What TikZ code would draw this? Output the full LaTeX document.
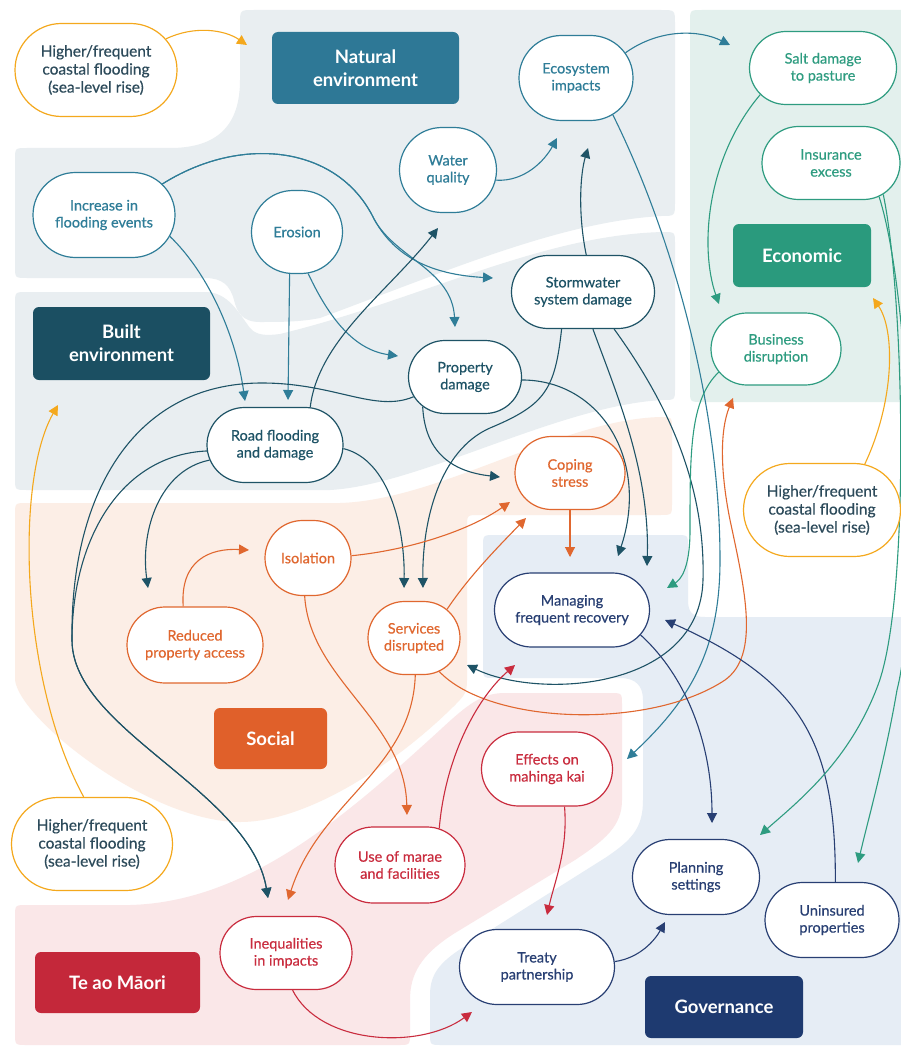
\documentclass[tikz,border=0pt]{standalone}
\usepackage{fontspec}
\setmainfont{Lato}
\newfontfamily\ndfont{Lato}[FakeBold=0.5]
\usetikzlibrary{shapes.misc,arrows.meta,calc}
\definecolor{natC}{HTML}{2F7D98}
\definecolor{builtC}{HTML}{1E5366}
\definecolor{socC}{HTML}{E0672F}
\definecolor{maoriC}{HTML}{C92C3E}
\definecolor{govC}{HTML}{283F73}
\definecolor{ecoC}{HTML}{2E9C80}
\definecolor{floodC}{HTML}{F4A81D}
\definecolor{floodT}{HTML}{2D4B5B}
\definecolor{natBox}{HTML}{2E7896}
\definecolor{builtBox}{HTML}{1B4F62}
\definecolor{ecoBox}{HTML}{2A9A7D}
\definecolor{socBox}{HTML}{E0602A}
\definecolor{maoriBox}{HTML}{C4283A}
\definecolor{govBox}{HTML}{1E3A70}
\definecolor{natBg}{HTML}{E9EEF1}
\definecolor{ecoBg}{HTML}{E3F0ED}
\definecolor{socBg}{HTML}{FCEEE6}
\definecolor{maoriBg}{HTML}{FAE7E8}
\definecolor{govBg}{HTML}{E6EDF5}
\pgfdeclarelayer{bg}
\pgfdeclarelayer{mid}
\pgfsetlayers{bg,mid,main}
\tikzset{
  nd/.style={rounded rectangle, draw=#1, text=#1, fill=white, line width=1.2pt,
    align=center, inner sep=0pt, font=\ndfont\fontsize{14.5}{17}\selectfont},
  fl/.style={nd=floodC, text=floodT, font=\ndfont\fontsize{15.5}{18}\selectfont},
  cat/.style={fill=#1, text=white, rounded corners=6pt, align=center, inner sep=0pt,
    font=\bfseries\fontsize{18.5}{23}\selectfont},
  con/.style={draw=#1, line width=1.1pt, -{Triangle[length=10pt,width=10pt]}},
  sz/.style 2 args={minimum width=#1pt, minimum height=#2pt}
}
\begin{document}
\begin{tikzpicture}[x=1pt,y=-1pt]
\useasboundingbox (0,0) rectangle (901,1051);
\begin{pgfonlayer}{bg}
\fill[white] (0,0) rectangle (901,1051);
% natural
\fill[natBg] (27,148) -- (170,148) .. controls (218,148) and (240,125) .. (240,80) -- (240,24)
  .. controls (240,10) .. (254,10) -- (661,10) .. controls (675,10) .. (675,24) -- (675,202)
  .. controls (675,216) .. (661,216) .. controls (560,222) and (450,270) .. (320,318)
  .. controls (300,322) and (280,322) .. (260,322) .. controls (242,322) and (237,312) .. (234,300)
  .. controls (230,285) and (222,278) .. (205,278) -- (27,278) .. controls (15,278) .. (15,266)
  -- (15,160) .. controls (15,148) .. (27,148) -- cycle;
% built
\fill[natBg] (27,292) -- (205,292) .. controls (228,292) and (238,312) .. (250,328)
  .. controls (256,335) and (265,336) .. (280,334) .. controls (420,300) and (540,235) .. (663,232)
  .. controls (675,232) .. (675,244) -- (675,388) .. controls (675,400) .. (663,400)
  .. controls (560,405) and (420,485) .. (330,490) -- (27,490) .. controls (15,490) .. (15,478)
  -- (15,304) .. controls (15,292) .. (27,292) -- cycle;
% economic
\fill[ecoBg] (702,10) -- (901,10) -- (901,402) -- (702,402) .. controls (690,402) .. (690,390)
  -- (690,22) .. controls (690,10) .. (702,10) -- cycle;
% social
\fill[socBg] (27,503) -- (340,503) .. controls (440,500) and (560,420) .. (660,417)
  .. controls (672,417) .. (672,429) -- (672,503) .. controls (672,515) .. (660,515) -- (479,515)
  .. controls (467,515) .. (467,527) -- (467,680) .. controls (467,692) and (465,695) .. (455,705)
  .. controls (400,760) and (310,822) .. (240,822) .. controls (150,822) and (20,720) .. (15,680)
  -- (15,515) .. controls (15,503) .. (27,503) -- cycle;
% te ao maori
\fill[maoriBg] (27,905) -- (130,905) .. controls (250,902) and (350,812) .. (440,730)
  .. controls (468,704) and (482,693) .. (505,693) -- (610,693) .. controls (622,693) .. (622,705)
  -- (622,800) .. controls (622,826) and (605,840) .. (575,860) -- (455,933)
  .. controls (420,955) and (410,975) .. (410,1000) -- (410,1033) .. controls (410,1045) .. (398,1045)
  -- (27,1045) .. controls (15,1045) .. (15,1033) -- (15,917) .. controls (15,905) .. (27,905) -- cycle;
% governance
\fill[govBg] (495,535) -- (676,535) .. controls (688,535) .. (688,547) -- (688,600)
  .. controls (688,612) and (692,617) .. (705,617) -- (901,617) -- (901,1045) -- (442,1045)
  .. controls (430,1045) .. (430,1033) -- (430,995) .. controls (430,972) and (442,960) .. (470,943)
  -- (605,858) .. controls (632,840) and (643,828) .. (643,800) -- (643,700)
  .. controls (643,686) and (636,678) .. (620,678) -- (495,678) .. controls (483,678) .. (483,666)
  -- (483,547) .. controls (483,535) .. (495,535) -- cycle;
\end{pgfonlayer}

% category labels
\node[cat=natBox, sz={187}{72}] (natL) at (365.5,68) {Natural\\environment};
\node[cat=builtBox, sz={177}{73}] (builtL) at (121.5,343.5) {Built\\environment};
\node[cat=ecoBox, sz={138}{63}] (ecoL) at (802,255.5) {Economic};
\node[cat=socBox, sz={113}{61}] (socL) at (270.5,738.5) {Social};
\node[cat=maoriBox, sz={165}{61}] (maoriL) at (117.5,982.5) {Te ao Māori};
\node[cat=govBox, sz={158}{62}] (govL) at (724,1007) {Governance};

% flood nodes
\node[fl, sz={162}{93}] (f1) at (96,70) {Higher/frequent\\coastal flooding\\(sea-level rise)};
\node[fl, sz={157}{93}] (f2) at (822,510) {Higher/frequent\\coastal flooding\\(sea-level rise)};
\node[fl, sz={161}{93}] (f3) at (92,844) {Higher/frequent\\coastal flooding\\(sea-level rise)};

% natural
\node[nd=natC, sz={114}{85}] (eco) at (576,78) {Ecosystem\\impacts};
\node[nd=natC, sz={97}{85}] (wq) at (448,170) {Water\\quality};
\node[nd=natC, sz={142}{85}] (inc) at (104,215) {Increase in\\flooding events};
\node[nd=natC, sz={91}{83}] (ero) at (297,232) {Erosion};
% built
\node[nd=builtC, sz={143}{73}] (sw) at (583,292) {Stormwater\\system damage};
\node[nd=builtC, sz={113}{73}] (pd) at (465,377) {Property\\damage};
\node[nd=builtC, sz={136}{75}] (rf) at (275,445) {Road flooding\\and damage};
% social
\node[nd=socC, sz={110}{73}] (cs) at (570,473) {Coping\\stress};
\node[nd=socC, sz={86}{75}] (iso) at (308,558) {Isolation};
\node[nd=socC, sz={136}{76}] (rpa) at (195,645) {Reduced\\property access};
\node[nd=socC, sz={92}{73}] (sd) at (414,638) {Services\\disrupted};
% maori
\node[nd=maoriC, sz={131}{74}] (mk) at (547,769) {Effects on\\mahinga kai};
\node[nd=maoriC, sz={130}{76}] (um) at (400,865) {Use of marae\\and facilities};
\node[nd=maoriC, sz={132}{73}] (ineq) at (286,953) {Inequalities\\in impacts};
% governance
\node[nd=govC, sz={155}{74}] (mfr) at (572,610) {Managing\\frequent recovery};
\node[nd=govC, sz={127}{75}] (ps) at (696,877) {Planning\\settings};
\node[nd=govC, sz={134}{75}] (up) at (832,920) {Uninsured\\properties};
\node[nd=govC, sz={155}{75}] (tp) at (537,967) {Treaty\\partnership};
% economic
\node[nd=ecoC, sz={147}{73}] (salt) at (823,68) {Salt damage\\to pasture};
\node[nd=ecoC, sz={138}{73}] (ins) at (831,163) {Insurance\\excess};
\node[nd=ecoC, sz={130}{72}] (bd) at (776,349) {Business\\disruption};

\begin{pgfonlayer}{mid}
% flooding
\draw[con=floodC] (f1.24) .. controls (195,25) and (225,30) .. ($(natL)+(-118.5,-23)$);
\draw[con=floodC] (f2.47) .. controls (895,400) and (895,330) .. ($(ecoL)+(71,42.5)$);
\draw[con=floodC] (f3.100) .. controls (20,680) and (15,480) .. ($(builtL)+(-63.5,61.5)$);
% natural
\draw[con=natC] (eco.27) .. controls (660,28) and (700,30) .. ($(salt)+(-93,-23)$);
\draw[con=natC] (wq.-12) .. controls (525,182) and (545,160) .. ($(eco)+(-19,60)$);
\draw[con=natC] (inc.-18) .. controls (205,270) and (235,330) .. ($(rf)+(-30,-44)$);
\draw[con=natC] (inc.28) .. controls (240,135) and (335,145) .. (372,215)
   .. controls (395,262) and (440,275) .. ($(sw)+(-90,-14)$);
\draw[con=natC] (inc.28) .. controls (240,135) and (335,145) .. (372,215)
   .. controls (392,258) and (452,268) .. ($(pd)+(-10,-50)$);
\draw[con=natC] (ero.-100) -- ($(rf)+(13,-45)$);
\draw[con=natC] (ero.-75) .. controls (330,320) and (355,350) .. ($(pd)+(-67,-21)$);
\draw[con=natC] (eco.-45) .. controls (670,230) and (720,400) .. (720,560)
   .. controls (720,650) and (690,700) .. ($(mk)+(80,-10)$);
% built
\draw[con=builtC] (sw.85) .. controls (578,215) and (580,175) .. ($(eco)+(12,70)$);
\draw[con=builtC] (rf.47) .. controls (318,340) and (390,290) .. ($(wq)+(-10,58)$);
\draw[con=builtC] (rf.193) .. controls (160,470) and (140,530) .. ($(rpa)+(-47,-57)$);
\draw[con=builtC] (rf.185) .. controls (120,455) and (72,540) .. (72,640)
   .. controls (72,730) and (250,790) .. ($(ineq)+(-18,-55)$);
\draw[con=builtC] (pd.201) .. controls (375,413) and (335,383) .. (262,383)
   .. controls (130,383) and (70,500) .. (72,640)
   .. controls (72,730) and (250,790) .. ($(ineq)+(-18,-55)$);
\draw[con=builtC] (rf.-3) .. controls (390,460) and (405,530) .. ($(sd)+(-10,-50)$);
\draw[con=builtC] (sw.-120) .. controls (555,390) and (545,405) .. (490,428)
   .. controls (440,450) and (422,520) .. ($(sd)+(9,-50)$);
\draw[con=builtC] (pd.215) .. controls (425,455) and (455,472) .. ($(cs)+(-70,4)$);
\draw[con=builtC] (pd.-3) .. controls (600,380) and (650,460) .. ($(mfr)+(46,-54)$);
\draw[con=builtC] (sw.-75) .. controls (615,390) and (650,470) .. ($(mfr)+(75,-44)$);
\draw[con=builtC] (sw.-50) .. controls (680,420) and (705,500) .. (703,580)
   .. controls (700,690) and (540,700) .. ($(sd)+(53,27)$);
% social
\draw[con=socC] (rpa.107) .. controls (180,560) and (210,548) .. ($(iso)+(-59,-8)$);
\draw[con=socC] (iso.3) .. controls (410,550) and (470,530) .. ($(cs)+(-60,29)$);
\draw[con=socC] (sd.41) .. controls (470,575) and (500,545) .. ($(cs)+(-44,45)$);
\draw[con=socC] (cs.south) -- ($(mfr)+(-2,-53)$);
\draw[con=socC] (iso.-95) .. controls (310,680) and (405,720) .. ($(um)+(7,-50)$);
\draw[con=socC] (sd.-88) .. controls (412,770) and (320,800) .. ($(ineq)+(2,-53)$);
\draw[con=socC] (sd.-53) .. controls (490,725) and (650,730) .. (725,680)
   .. controls (760,655) and (745,590) .. (730,520)
   .. controls (720,470) and (720,430) .. ($(bd)+(-43,49)$);
% maori
\draw[con=maoriC] (mk.-65) .. controls (568,850) and (555,880) .. ($(tp)+(10,-52)$);
\draw[con=maoriC] (ineq.-80) .. controls (320,1045) and (420,1050) .. ($(tp)+(-65,45)$);
\draw[con=maoriC] (um.43) .. controls (445,760) and (475,700) .. ($(mfr)+(-57,55)$);
% governance
\draw[con=govC] (mfr.-20) .. controls (690,680) and (712,750) .. ($(ps)+(16,-54)$);
\draw[con=govC] (up.85) .. controls (836,740) and (800,680) .. ($(mfr)+(93,10)$);
\draw[con=govC] (tp.4) .. controls (640,958) and (655,940) .. ($(ps)+(-31,45)$);
% economic
\draw[con=ecoC] (salt.203) .. controls (705,160) and (700,250) .. ($(bd)+(-57,-45)$);
\draw[con=ecoC] (bd.202) .. controls (690,400) and (690,450) .. (690,530)
   .. controls (690,570) and (680,580) .. ($(mfr)+(95,-22)$);
\draw[con=ecoC] (ins.-31) .. controls (905,300) and (910,600) .. (878,685)
   .. controls (850,760) and (800,800) .. ($(ps)+(64,-42)$);
\draw[con=ecoC] (ins.-35) .. controls (912,300) and (920,600) .. (897,690)
   .. controls (885,760) and (868,820) .. ($(up)+(26,-57)$);
\end{pgfonlayer}
\end{tikzpicture}
\end{document}
